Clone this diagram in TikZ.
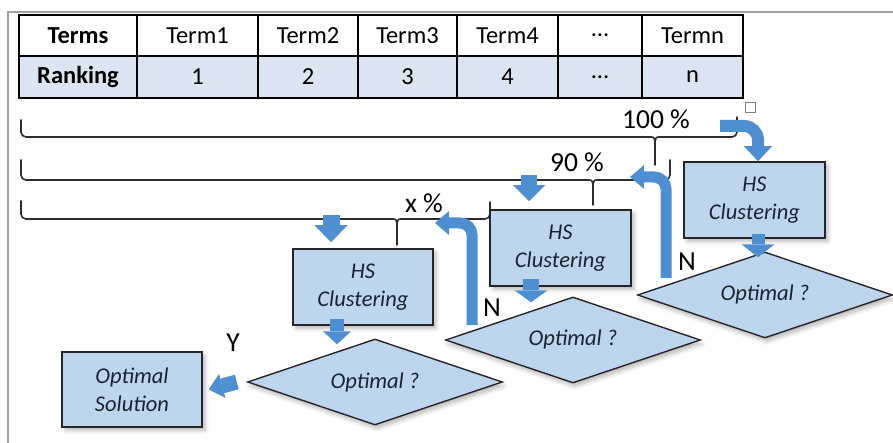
\documentclass[tikz,border=0pt]{standalone}
\usepackage{fontspec}
\setmainfont{Carlito}
\usetikzlibrary{arrows.meta,shapes.geometric,shadows.blur}

\definecolor{arrowblue}{RGB}{78,143,210}
\definecolor{boxblue}{RGB}{189,214,238}
\definecolor{rowblue}{RGB}{219,229,242}
\definecolor{inkdark}{RGB}{28,34,48}
\definecolor{framegray}{RGB}{160,160,160}
\definecolor{bracegray}{RGB}{45,45,45}

% horizontal range brace: left x, left top, line y, cusp x, tick end, right x, right top
\newcommand{\rangebrace}[7]{%
  \draw[bracel, rounded corners=5pt] (#1,#2) -- (#1,#3) -- ({#4-5},#3);
  \draw[bracel] ({#4-5},#3) .. controls ({#4-1},#3) .. (#4,{#3+5}) -- (#4,#5);
  \draw[bracel] ({#4+5},#3) .. controls ({#4+1},#3) .. (#4,{#3+5});
  \draw[bracel, rounded corners=5pt] ({#4+5},#3) -- (#6,#3) -- (#6,#7);
}

\tikzset{
  cell/.style={draw=black, line width=1.5pt, inner sep=0pt, anchor=center,
    font=\fontsize{24.5}{27}\selectfont},
  bracel/.style={draw=bracegray, line width=1.6pt, line cap=round},
  hsbox/.style={draw=black!85, line width=1.5pt, fill=boxblue, inner sep=0pt,
    minimum width=141pt, minimum height=76pt, align=center, text=inkdark,
    font=\fontsize{22.5}{28}\selectfont\itshape,
    blur shadow={shadow xshift=3pt, shadow yshift=-3.5pt, shadow blur radius=4pt, shadow opacity=28}},
  decision/.style={diamond, aspect=3, draw=black!85, line width=1.4pt, fill=boxblue,
    inner sep=0pt, minimum width=255pt, minimum height=86pt, text=inkdark,
    font=\fontsize{22.5}{26}\selectfont\itshape,
    blur shadow={shadow xshift=2pt, shadow yshift=-4pt, shadow blur radius=4pt, shadow opacity=26}},
  pct/.style={font=\fontsize{27.5}{29}\selectfont, text=black, inner sep=0pt},
  barrow/.style n args={3}{draw=arrowblue, line width=#1,
    -{Triangle[width=#2, length=#3, line width=0pt]}},
}

\begin{document}
\begin{tikzpicture}[x=1pt, y=-1pt]
\useasboundingbox (0,0) rectangle (893,443);

% page frame
\draw[framegray, line width=2.2pt] (8,443) -- (8,12) -- (893,12);

% term table
\foreach \l/\r/\a/\b [count=\i] in {19/137/\textbf{Terms}/\textbf{Ranking},
    137/258/Term1/1, 258/358/Term2/2, 358/457/Term3/3, 457/558/Term4/4,
    558/642/…/…, 642/743/Termn/n} {
  \node[cell, fill=white, minimum width={\r-\l}, minimum height=41pt]
    (term\i) at ({(\l+\r)/2},35.5) {\a};
  \node[cell, fill=rowblue, minimum width={\r-\l}, minimum height=42pt]
    (rank\i) at ({(\l+\r)/2},77) {\b};
}
\draw[black, line width=2.2pt] (19,56) -- (743,56);

% ranges of the ranking
\rangebrace{21}{120}{137}{655}{165}{737}{117}
\rangebrace{21}{160}{180}{593}{205}{670}{160}
\rangebrace{21}{201}{219}{397}{245}{490}{202}

\node[pct] (p100) at (656,119) {100 \%};
\node[pct] (p90) at (577,162) {90 \%};
\node[pct] (px) at (424,203) {x \%};

% handle square
\draw[gray, line width=0.8pt, fill=white] (745,102) rectangle (755,112);

% clustering steps
\node[hsbox] (hsR) at (754.5,200) {HS\\Clustering};
\node[hsbox] (hsM) at (560.5,248) {HS\\Clustering};
\node[hsbox, minimum width=140pt] (hsL) at (363,287) {HS\\Clustering};
\node[hsbox, minimum width=140pt, minimum height=75pt] (sol) at (132,389.5) {Optimal\\Solution};

\node[decision] (dR) at (765,295) {Optimal ?};
\node[decision] (dM) at (573,340) {Optimal ?};
\node[decision] (dL) at (375,382) {Optimal ?};

% free ends of the arrows
\coordinate (from100) at (720,126);
\coordinate (from90) at (529,175);
\coordinate (fromx) at (331,215);
\coordinate (noR) at (666,278);
\coordinate (to90) at (630,177);
\coordinate (noM) at (472,325);
\coordinate (tox) at (435,223);

% flow arrows
\draw[barrow={12pt}{28pt}{15pt}, rounded corners=14pt] (from100) -| ([xshift=3.5pt]hsR.north);
\draw[barrow={13pt}{33pt}{13pt}] ([xshift=3.5pt,yshift=5pt]hsR.south) -- ([xshift=-7pt,yshift=-6pt]dR.north);
\draw[barrow={11pt}{24pt}{14pt}, rounded corners=12pt] (noR) |- (to90);

\draw[barrow={16pt}{32pt}{16pt}] (from90) -- ([xshift=-31.5pt,yshift=8pt]hsM.north);
\draw[barrow={16pt}{33pt}{12pt}] ([xshift=-29.5pt,yshift=8pt]hsM.south) -- ([xshift=-42pt,yshift=-6pt]dM.north);
\draw[barrow={11pt}{24pt}{14pt}, rounded corners=12pt] (noM) |- (tox);

\draw[barrow={17pt}{33pt}{17pt}] (fromx) -- ([xshift=-32pt,yshift=6pt]hsL.north);
\draw[barrow={14pt}{28pt}{13pt}] ([xshift=-26pt,yshift=7pt]hsL.south) -- ([xshift=-38pt,yshift=-6pt]dL.north);
\draw[barrow={15pt}{25pt}{14pt}] ([xshift=-10pt]dL.west) -- ([xshift=6pt]sol.east);

% decision labels
\node[pct] (nR) at (687,262) {N};
\node[pct] (nM) at (492,308) {N};
\node[pct] (yL) at (233,343) {Y};
\end{tikzpicture}
\end{document}
